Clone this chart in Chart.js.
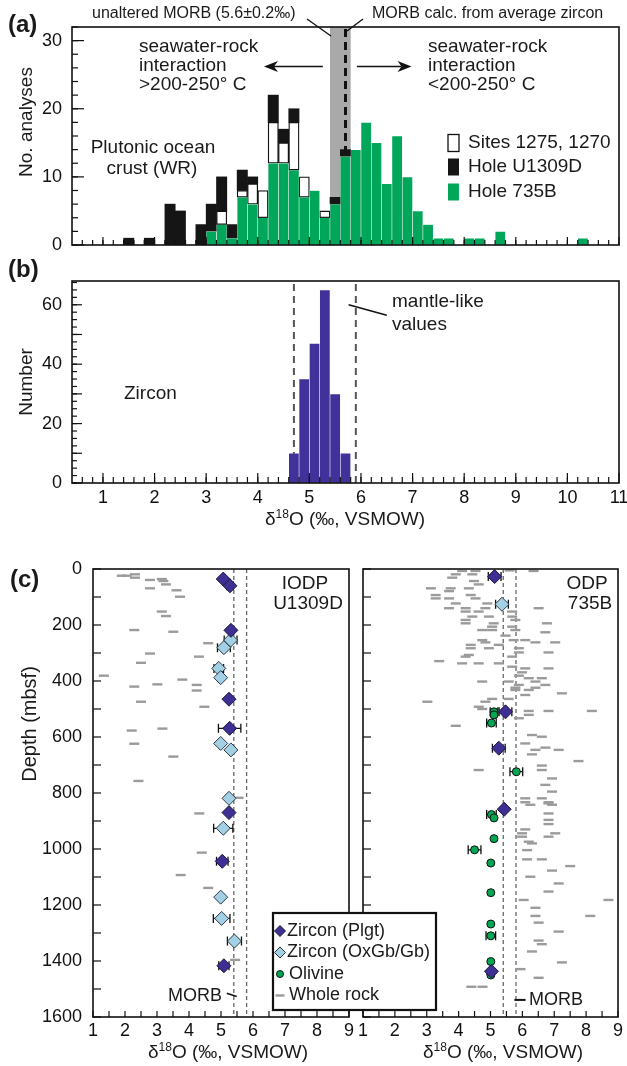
<!DOCTYPE html>
<html>
<head>
<meta charset="utf-8">
<script src="https://cdn.jsdelivr.net/npm/chart.js@4.4.1/dist/chart.umd.min.js"></script>
<style>
  body { margin: 0; background: #fff; }
  #wrap { position: relative; width: 627px; height: 1066px; overflow: hidden; background: #fff; }
  canvas { position: absolute; }
</style>
</head>
<body>
<div id="wrap">
  <canvas id="chartA" width="627" height="255" style="left:0;top:0"></canvas>
  <canvas id="chartB" width="627" height="277" style="left:0;top:255px"></canvas>
  <canvas id="chartCR" width="272" height="526" style="left:355px;top:540px"></canvas>
  <canvas id="chartCL" width="445" height="526" style="left:0;top:540px"></canvas>
</div>
<script>
const FONT = '"Liberation Sans", Arial, Helvetica, sans-serif';
Chart.defaults.font.family = FONT;
Chart.defaults.color = '#111';

// (a) whole rock d18O histogram, 0.2 permil bins (bin centres)
const wrBins     = [1.5, 1.9, 2.3, 2.5, 2.9, 3.1, 3.3, 3.5, 3.7, 3.9, 4.1, 4.3, 4.5, 4.7, 4.9, 5.1, 5.3, 5.5, 5.7, 5.9, 6.1, 6.3, 6.5, 6.7, 6.9, 7.1, 7.3, 7.5, 7.7, 8.1, 8.3, 8.7, 10.3];
const hole735B   = [0, 0, 0, 0, 0, 2, 3, 1, 7, 6, 4, 12, 12, 11, 7, 8, 4, 6, 13, 14, 18, 15, 9, 16, 10, 5, 3, 1, 1, 1, 1, 2, 1];
const sites1275  = [0, 0, 0, 0, 0, 0, 2, 0, 1, 3, 4, 6, 3, 7, 3, 0, 1, 0, 0, 0, 0, 0, 0, 0, 0, 0, 0, 0, 0, 0, 0, 0, 0];
const holeU1309D = [1, 1, 6, 5, 3, 4, 5, 2, 3, 1, 0, 4, 2, 2, 0, 0, 0, 1, 1, 0, 0, 0, 0, 0, 0, 0, 0, 0, 0, 0, 0, 0, 0];
const aYTicks = [0, 10, 20, 30];
const morbBand = [5.4, 5.8];   // unaltered MORB 5.6 +- 0.2
const morbZircon = 5.7;        // MORB calc. from average zircon

// (b) zircon histogram
const zirconBins   = [4.7, 4.9, 5.1, 5.3, 5.5, 5.7];
const zirconCounts = [10, 35, 47, 65, 30, 10];
const mantleZircon = [4.7, 5.9];
const bYTicks = [0, 20, 40, 60];
const xTicksAB = [1, 2, 3, 4, 5, 6, 7, 8, 9, 10, 11];

// (c) depth profiles: [d18O, depth (mbsf), error]
const u1309Plgt = [[5.07, 36, 0], [5.28, 60, 0.1], [5.31, 219, 0], [5.25, 465, 0], [5.27, 569, 0.35], [5.25, 870, 0], [5.04, 1044, 0.18], [5.09, 1417, 0.16]];
const u1309OxGb = [[5.3, 254, 0.2], [5.09, 281, 0.2], [4.93, 355, 0.15], [4.99, 388, 0], [4.99, 623, 0], [5.31, 646, 0], [5.25, 819, 0], [5.07, 926, 0.3], [4.99, 1172, 0], [5.02, 1248, 0.26], [5.42, 1329, 0.22]];
const u1309Whole = [[1.9, 24], [2.05, 24], [2.31, 19], [2.31, 31], [2.78, 39], [3.15, 36], [3.2, 43], [3.28, 55], [2.78, 69], [3.61, 76], [3.72, 99],
  [3.15, 152], [3.28, 168], [2.29, 218], [3.51, 224], [4.6, 265], [2.78, 302], [4.31, 313], [2.5, 335], [1.34, 381], [2.29, 420], [3.01, 412],
  [3.79, 395], [4.24, 414], [4.24, 434], [2.5, 474], [4.48, 492], [2.21, 577], [3.17, 570], [2.29, 624], [3.51, 670], [2.42, 757], [5.55, 817],
  [4.32, 873], [4.4, 1013], [3.74, 1093], [4.6, 1139], [5.44, 1396]];

const odpPlgt = [[5.13, 27, 0.2], [5.47, 510, 0.2], [5.26, 640, 0.2], [5.43, 858, 0], [5.03, 1437, 0]];
const odpOxGb = [[5.36, 126, 0.2]];
const odpOlivine = [[5.11, 510, 0.12], [5.11, 521, 0], [5.03, 550, 0.15], [5.81, 724, 0.2], [5.03, 877, 0.15], [5.11, 889, 0], [5.11, 963, 0],
  [4.5, 1003, 0.2], [5.01, 1050, 0], [5.01, 1156, 0], [5.01, 1268, 0], [5.01, 1310, 0.15], [5.01, 1402, 0], [5.01, 1444, 0], [5.01, 1450, 0]];
const odpWhole = [[4.11, 7], [4.53, 7], [6.35, 7], [5.6, 5], [3.91, 19], [4.43, 19], [3.8, 31], [4.48, 43], [4.63, 55],
  [3.13, 69], [3.75, 69], [4.32, 69], [3.7, 79], [3.28, 93], [4.38, 93], [3.28, 105], [3.7, 105], [4.53, 105], [3.91, 123], [4.9, 123],
  [3.7, 140], [4.22, 140], [4.84, 140], [6.51, 140], [4.22, 152], [4.63, 152], [5.68, 152], [4.43, 170], [4.95, 170], [5.68, 170],
  [4.22, 182], [5.78, 182], [4.22, 194], [5.1, 194], [6.77, 194], [5.05, 206], [5.68, 206], [4.74, 218], [5.05, 218], [5.78, 218],
  [6.72, 226], [5.47, 238], [4.74, 254], [5.73, 254], [6.09, 254], [4.84, 262], [6.41, 262], [7.03, 262], [4.38, 271], [5.26, 271],
  [4.38, 283], [4.95, 283], [5.89, 283], [5.89, 298], [6.82, 298], [4.32, 307], [4.22, 313], [5.68, 313], [3.39, 329],
  [4.11, 337], [4.63, 337], [5.26, 337], [5.68, 349], [6.09, 355], [6.82, 355], [5.99, 369], [5.89, 381], [6.2, 390], [6.61, 390],
  [4.74, 402], [5.57, 402], [6.41, 402], [5.89, 414], [6.72, 414], [5.78, 424], [6.41, 424], [5.78, 432], [6.2, 432],
  [7.24, 444], [6.09, 450], [5.05, 464], [5.57, 464], [3.02, 474], [4.84, 474], [4.63, 492], [4.74, 500],
  [6.2, 507], [6.82, 507], [8.18, 507], [6.2, 521], [5.89, 533], [3.91, 560], [6.3, 593], [6.61, 599], [6.09, 623], [6.72, 638],
  [6.41, 646], [7.14, 646], [6.3, 662], [7.76, 686], [6.61, 702], [4.63, 718], [6.61, 718], [6.93, 748], [6.72, 771], [6.93, 795],
  [6.09, 819], [6.61, 819], [6.09, 833], [6.82, 833], [6.82, 837], [6.25, 842], [6.93, 842], [6.82, 873], [6.82, 896], [6.82, 911],
  [6.09, 930], [5.99, 944], [7.03, 944], [5.99, 956], [6.82, 956], [6.2, 974], [6.3, 980], [6.15, 1004], [6.15, 1037], [6.61, 1037],
  [7.5, 1061], [6.93, 1077], [6.25, 1099], [7.14, 1123], [6.82, 1152], [6.04, 1182], [8.7, 1182], [6.41, 1210], [6.41, 1239], [8.13, 1239],
  [6.51, 1263], [7.14, 1295], [6.51, 1327], [6.61, 1340], [6.3, 1366], [7.24, 1405], [5.94, 1429], [6.51, 1460], [4.4, 1492], [4.75, 1492]];
const morbLines = [5.4, 5.8];
const xTicksC = [1, 2, 3, 4, 5, 6, 7, 8, 9];
const depthTicks = [0, 200, 400, 600, 800, 1000, 1200, 1400, 1600];

const GREEN = '#00a65a';
const PURPLE = '#40329a';
const DARK = '#3d2f93';
const LIGHT = '#a3d0e4';
const OLIVINE = '#00a651';
const GRAY = '#9b9b9b';

// helpers
function range(a, b, step) {
  const out = [];
  for (let v = a; v <= b + 1e-9; v += step) out.push(Math.round(v * 1000) / 1000);
  return out;
}
function toBars(bins, vals) {
  return bins.map((x, i) => ({ x: x, y: vals[i] || null }));
}
function toPts(rows) {
  return rows.map(r => ({ x: r[0], y: r[1] }));
}
function label(ctx, s, x, y, size, align, opt) {
  opt = opt || {};
  ctx.save();
  ctx.font = (opt.bold ? 'bold ' : '') + size + 'px ' + FONT;
  ctx.fillStyle = '#1a1a1a';
  ctx.textAlign = align || 'left';
  ctx.textBaseline = 'middle';
  if (opt.rot) {
    ctx.translate(x, y);
    ctx.rotate(-Math.PI / 2);
    ctx.fillText(s, 0, 0);
  } else {
    ctx.fillText(s, x, y);
  }
  ctx.restore();
}
function deltaTitle(ctx, cx, cy, size) {
  ctx.save();
  ctx.fillStyle = '#1a1a1a';
  ctx.textBaseline = 'middle';
  ctx.textAlign = 'left';
  const big = size + 'px ' + FONT, small = Math.round(size * 0.62) + 'px ' + FONT;
  ctx.font = big;
  const w1 = ctx.measureText('\u03b4').width;
  const w3 = ctx.measureText('O (\u2030, VSMOW)').width;
  ctx.font = small;
  const w2 = ctx.measureText('18').width;
  let x = cx - (w1 + w2 + w3) / 2;
  ctx.font = big; ctx.fillText('\u03b4', x, cy); x += w1;
  ctx.font = small; ctx.fillText('18', x, cy - size * 0.3); x += w2;
  ctx.font = big; ctx.fillText('O (\u2030, VSMOW)', x, cy);
  ctx.restore();
}
function line(ctx, x1, y1, x2, y2, w, color, dash) {
  ctx.save();
  ctx.strokeStyle = color || '#111';
  ctx.lineWidth = w || 1;
  if (dash) ctx.setLineDash(dash);
  ctx.beginPath(); ctx.moveTo(x1, y1); ctx.lineTo(x2, y2); ctx.stroke();
  ctx.restore();
}
function arrow(ctx, x1, y, x2) {
  const dir = x2 > x1 ? 1 : -1;
  line(ctx, x1, y, x2 - dir * 10, y, 1.6, '#111');
  ctx.save();
  ctx.fillStyle = '#111';
  ctx.beginPath();
  ctx.moveTo(x2, y);
  ctx.lineTo(x2 - dir * 14, y - 5.5);
  ctx.lineTo(x2 - dir * 10, y);
  ctx.lineTo(x2 - dir * 14, y + 5.5);
  ctx.closePath();
  ctx.fill();
  ctx.restore();
}
// box and inward tick marks
function frame(chart, xt, yt) {
  const { ctx, chartArea: ca, scales: { x, y } } = chart;
  ctx.save();
  ctx.strokeStyle = '#111';
  ctx.lineWidth = 1.2;
  xt.forEach(t => t.values.forEach(v => {
    const px = x.getPixelForValue(v);
    ctx.beginPath(); ctx.moveTo(px, ca.bottom); ctx.lineTo(px, ca.bottom - t.len); ctx.stroke();
  }));
  yt.forEach(t => t.values.forEach(v => {
    const py = y.getPixelForValue(v);
    ctx.beginPath(); ctx.moveTo(ca.left, py); ctx.lineTo(ca.left + t.len, py); ctx.stroke();
  }));
  ctx.lineWidth = 1.6;
  ctx.strokeRect(ca.left, ca.top, ca.right - ca.left, ca.bottom - ca.top);
  ctx.restore();
}
function fixed(w, h) {
  return function (s) {
    if (w !== null) s.width = w;
    if (h !== null) s.height = h;
    s.paddingLeft = 0; s.paddingRight = 0; s.paddingTop = 0; s.paddingBottom = 0;
  };
}
function setTicks(list) {
  return function (s) { s.ticks = list.map(v => ({ value: v })); };
}
const noGrid = { display: false, drawTicks: false, offset: false };
const noBorder = { display: false };
const tickFont = { family: FONT, size: 18 };
const plain = v => String(v);

// ---------- (a)
new Chart(document.getElementById('chartA'), {
  type: 'bar',
  data: {
    datasets: [
      { label: 'Hole 735B', data: toBars(wrBins, hole735B), backgroundColor: GREEN, borderColor: 'rgba(255,255,255,0.35)', borderWidth: 0.6, borderSkipped: false, barPercentage: 1, categoryPercentage: 1 },
      { label: 'Sites 1275, 1270', data: toBars(wrBins, sites1275), backgroundColor: '#ffffff', borderColor: '#111', borderWidth: 1.3, borderSkipped: false, barPercentage: 1, categoryPercentage: 1 },
      { label: 'Hole U1309D', data: toBars(wrBins, holeU1309D), backgroundColor: '#151515', borderWidth: 0, barPercentage: 1, categoryPercentage: 1 }
    ]
  },
  options: {
    responsive: false, animation: false, events: [],
    layout: { padding: { top: 27, right: 8, left: 0, bottom: 0 } },
    plugins: { legend: { display: false }, tooltip: { enabled: false } },
    scales: {
      x: { type: 'linear', offset: false, min: 0.4, max: 11, stacked: true, grid: noGrid, border: noBorder, ticks: { display: false }, afterBuildTicks: setTicks(xTicksAB), afterFit: fixed(null, 10) },
      y: { min: 0, max: 32, stacked: true, grid: noGrid, border: noBorder, ticks: { font: tickFont, padding: 10, callback: plain }, afterBuildTicks: setTicks(aYTicks), afterFit: fixed(72, null) }
    }
  },
  plugins: [{
    id: 'panelA',
    beforeDatasetsDraw(chart) {
      const { ctx, chartArea: ca, scales: { x } } = chart;
      const b0 = x.getPixelForValue(morbBand[0]), b1 = x.getPixelForValue(morbBand[1]);
      ctx.save();
      ctx.fillStyle = '#a9a9a9';
      ctx.fillRect(b0, ca.top, b1 - b0, ca.bottom - ca.top);
      ctx.restore();
      const zx = x.getPixelForValue(morbZircon);
      line(ctx, zx, ca.top + 2, zx, ca.bottom, 3, '#111', [8, 5]);
    },
    afterDraw(chart) {
      const { ctx, scales: { x, y } } = chart;
      frame(chart,
        [{ values: range(0.6, 10.8, 0.2), len: 5 }, { values: xTicksAB, len: 8 }],
        [{ values: range(0, 32, 2), len: 6 }, { values: aYTicks, len: 12 }]);
      // arrows
      const ay = y.getPixelForValue(26.2);
      arrow(ctx, x.getPixelForValue(5.26), ay, x.getPixelForValue(4.12));
      arrow(ctx, x.getPixelForValue(5.92), ay, x.getPixelForValue(6.98));
      // text
      label(ctx, 'unaltered MORB (5.6\u00b10.2\u2030)', 92, 14, 16);
      label(ctx, 'MORB calc. from average zircon', 372, 14, 16);
      line(ctx, 307, 19, 331, 36, 1.3);
      line(ctx, 363, 19, 347, 31, 1.3);
      ['seawater-rock', 'interaction', '>200-250\u00b0 C'].forEach((s, i) => label(ctx, s, 139, 47 + i * 19, 19));
      ['seawater-rock', 'interaction', '<200-250\u00b0 C'].forEach((s, i) => label(ctx, s, 428, 47 + i * 19, 19));
      label(ctx, 'Plutonic ocean', 153, 148, 19, 'center');
      label(ctx, 'crust (WR)', 152, 169, 19, 'center');
      label(ctx, '(a)', 8, 25, 24, 'left', { bold: true });
      label(ctx, 'No. analyses', 27, 122, 19, 'center', { rot: true });
      // legend
      const ds = chart.data.datasets;
      [[1, 143], [2, 167], [0, 192]].forEach(([k, yy]) => {
        const d = ds[k];
        ctx.save();
        ctx.fillStyle = d.backgroundColor;
        ctx.fillRect(448, yy - 8.5, 11, 17);
        if (d.backgroundColor === '#ffffff') {
          ctx.strokeStyle = '#111'; ctx.lineWidth = 1.3;
          ctx.strokeRect(448, yy - 8.5, 11, 17);
        }
        ctx.restore();
        label(ctx, d.label, 468, yy, 19);
      });
    }
  }]
});

// ---------- (b)
new Chart(document.getElementById('chartB'), {
  type: 'bar',
  data: {
    datasets: [
      { label: 'Zircon', data: toBars(zirconBins, zirconCounts), backgroundColor: PURPLE, borderColor: 'rgba(255,255,255,0.25)', borderWidth: 0.6, borderSkipped: false, barPercentage: 1, categoryPercentage: 1 }
    ]
  },
  options: {
    responsive: false, animation: false, events: [],
    layout: { padding: { top: 26, right: 8, left: 0, bottom: 0 } },
    plugins: { legend: { display: false }, tooltip: { enabled: false } },
    scales: {
      x: { type: 'linear', offset: false, min: 0.4, max: 11, grid: noGrid, border: noBorder, ticks: { font: tickFont, padding: 4, callback: plain }, afterBuildTicks: setTicks(xTicksAB), afterFit: fixed(null, 49) },
      y: { min: 0, max: 68, grid: noGrid, border: noBorder, ticks: { font: tickFont, padding: 10, callback: plain }, afterBuildTicks: setTicks(bYTicks), afterFit: fixed(72, null) }
    }
  },
  plugins: [{
    id: 'panelB',
    beforeDatasetsDraw(chart) {
      const { ctx, chartArea: ca, scales: { x } } = chart;
      mantleZircon.forEach(v => {
        const px = x.getPixelForValue(v);
        line(ctx, px, ca.top + 3, px, ca.bottom, 2, '#555', [7, 5]);
      });
    },
    afterDraw(chart) {
      const { ctx, scales: { x, y } } = chart;
      frame(chart,
        [{ values: range(0.6, 10.8, 0.2), len: 6 }, { values: xTicksAB, len: 10 }],
        [{ values: range(0, 67.5, 2.5), len: 5 }, { values: range(0, 60, 10), len: 10 }]);
      line(ctx, x.getPixelForValue(5.76), y.getPixelForValue(60), x.getPixelForValue(6.5), y.getPixelForValue(56.5), 1.6);
      ctx.save();
      ctx.translate(0, -255);
      label(ctx, 'mantle-like', 392, 302, 19);
      label(ctx, 'values', 392, 325, 19);
      label(ctx, 'Zircon', 124, 394, 19);
      label(ctx, '(b)', 8, 270, 24, 'left', { bold: true });
      label(ctx, 'Number', 27, 382, 19, 'center', { rot: true });
      deltaTitle(ctx, 345, 520, 19);
      ctx.restore();
    }
  }]
});

// ---------- (c)
function profileDatasets(plgt, oxgb, olivine, whole) {
  const sets = [
    { label: 'Zircon (Plgt)', data: toPts(plgt), errs: plgt.map(r => r[2]), pointStyle: 'rectRot', pointRadius: 7, pointBackgroundColor: DARK, pointBorderColor: '#1c1a3a', pointBorderWidth: 1 },
    { label: 'Zircon (OxGb/Gb)', data: toPts(oxgb), errs: oxgb.map(r => r[2]), pointStyle: 'rectRot', pointRadius: 7, pointBackgroundColor: LIGHT, pointBorderColor: '#2a3a44', pointBorderWidth: 1 }
  ];
  if (olivine) sets.push({ label: 'Olivine', data: toPts(olivine), errs: olivine.map(r => r[2]), pointStyle: 'circle', pointRadius: 4, pointBackgroundColor: OLIVINE, pointBorderColor: '#111', pointBorderWidth: 1 });
  sets.push({ label: 'Whole rock', data: toPts(whole), pointStyle: 'line', pointRadius: 5, pointBorderColor: GRAY, pointBorderWidth: 2.4 });
  sets.forEach(s => { s.showLine = false; s.pointHoverRadius = s.pointRadius; });
  return sets;
}
function profileOptions(yw, padRight, showY) {
  return {
    responsive: false, animation: false, events: [],
    layout: { padding: { top: 29, right: padRight, left: 0, bottom: 0 } },
    plugins: { legend: { display: false }, tooltip: { enabled: false } },
    scales: {
      x: { type: 'linear', min: 1, max: 9, grid: noGrid, border: noBorder, ticks: { font: tickFont, padding: 3, callback: plain }, afterBuildTicks: setTicks(xTicksC), afterFit: fixed(null, 49) },
      y: { type: 'linear', min: 0, max: 1600, reverse: true, grid: noGrid, border: noBorder, ticks: { display: showY, font: tickFont, padding: 11, callback: plain }, afterBuildTicks: setTicks(depthTicks), afterFit: fixed(yw, null) }
    }
  };
}
const profileBack = {
  id: 'profileBack',
  beforeDatasetsDraw(chart) {
    const { ctx, chartArea: ca, scales: { x } } = chart;
    morbLines.forEach(v => {
      const px = x.getPixelForValue(v);
      line(ctx, px, ca.top, px, ca.bottom, 1.3, '#666', [4, 3]);
    });
  },
  beforeDatasetDraw(chart, args) {
    const ds = chart.data.datasets[args.index];
    if (!ds.errs) return;
    const { ctx, scales: { x, y } } = chart;
    ctx.save();
    ctx.strokeStyle = '#111';
    ctx.lineWidth = 1.3;
    ds.data.forEach((p, i) => {
      const e = ds.errs[i];
      if (!e) return;
      const py = y.getPixelForValue(p.y), x1 = x.getPixelForValue(p.x - e), x2 = x.getPixelForValue(p.x + e);
      ctx.beginPath();
      ctx.moveTo(x1, py); ctx.lineTo(x2, py);
      ctx.moveTo(x1, py - 4.5); ctx.lineTo(x1, py + 4.5);
      ctx.moveTo(x2, py - 4.5); ctx.lineTo(x2, py + 4.5);
      ctx.stroke();
    });
    ctx.restore();
  }
};
const cTicks = [[{ values: range(1, 9, 0.5), len: 6 }], [{ values: range(0, 1600, 100), len: 8 }]];

new Chart(document.getElementById('chartCR'), {
  type: 'scatter',
  data: { datasets: profileDatasets(odpPlgt, odpOxGb, odpOlivine, odpWhole) },
  options: profileOptions(7, 9, false),
  plugins: [profileBack, {
    id: 'panelCR',
    afterDraw(chart) {
      const { ctx, scales: { x, y } } = chart;
      frame(chart, cTicks[0], cTicks[1]);
      line(ctx, x.getPixelForValue(5.75), y.getPixelForValue(1539), x.getPixelForValue(6.1), y.getPixelForValue(1539), 2);
      ctx.save();
      ctx.translate(-355, -540);
      label(ctx, 'MORB', 529, 1000, 18);
      label(ctx, 'ODP', 587, 584, 19, 'center');
      label(ctx, '735B', 590, 604, 19, 'center');
      deltaTitle(ctx, 503, 1053, 19);
      ctx.restore();
    }
  }]
});

new Chart(document.getElementById('chartCL'), {
  type: 'scatter',
  data: { datasets: profileDatasets(u1309Plgt, u1309OxGb, null, u1309Whole) },
  options: profileOptions(93, 96, true),
  plugins: [profileBack, {
    id: 'panelCL',
    afterDraw(chart) {
      const { ctx, scales: { x, y } } = chart;
      frame(chart, cTicks[0], cTicks[1]);
      line(ctx, x.getPixelForValue(5.18), y.getPixelForValue(1515), x.getPixelForValue(5.49), y.getPixelForValue(1527), 1.6);
      ctx.save();
      ctx.translate(0, -540);
      label(ctx, 'MORB', 222, 996, 18, 'right');
      label(ctx, 'IODP', 305, 584, 19, 'center');
      label(ctx, 'U1309D', 308, 604, 19, 'center');
      label(ctx, '(c)', 10, 580, 24, 'left', { bold: true });
      label(ctx, 'Depth (mbsf)', 30, 724, 20, 'center', { rot: true });
      deltaTitle(ctx, 228, 1053, 19);
      // legend box spanning both panels
      ctx.fillStyle = '#fff';
      ctx.fillRect(273, 913, 163, 97);
      ctx.strokeStyle = '#111'; ctx.lineWidth = 2.2;
      ctx.strokeRect(273, 913, 163, 97);
      const rows = [
        { text: 'Zircon (Plgt)', style: 'rectRot', r: 5.5, fill: DARK, stroke: '#1c1a3a', w: 1 },
        { text: 'Zircon (OxGb/Gb)', style: 'rectRot', r: 5.5, fill: LIGHT, stroke: '#2a3a44', w: 1 },
        { text: 'Olivine', style: 'circle', r: 3.5, fill: OLIVINE, stroke: '#111', w: 1 },
        { text: 'Whole rock', style: 'line', r: 4.5, fill: GRAY, stroke: GRAY, w: 2.4 }
      ];
      rows.forEach((row, i) => {
        const yy = 931 + i * 21.5;
        ctx.save();
        ctx.fillStyle = row.fill; ctx.strokeStyle = row.stroke; ctx.lineWidth = row.w;
        Chart.helpers.drawPoint(ctx, { pointStyle: row.style, radius: row.r, borderWidth: row.w }, 280, yy);
        ctx.restore();
        label(ctx, row.text, i < 2 ? 287 : 289, yy, 18);
      });
      ctx.restore();
    }
  }]
});
</script>
</body>
</html>
